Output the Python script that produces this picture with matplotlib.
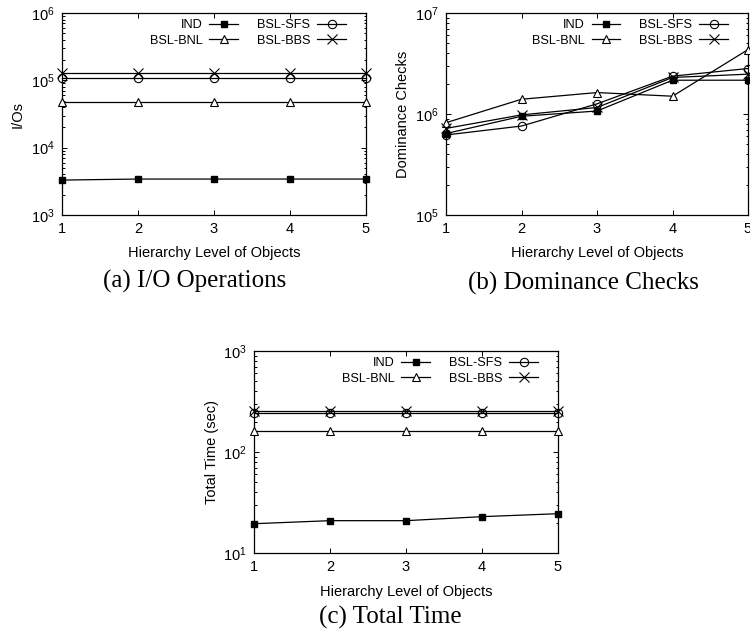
import matplotlib
matplotlib.use("Agg")
import matplotlib.pyplot as plt
from matplotlib.ticker import LogLocator, NullFormatter, FixedLocator

plt.rcParams['font.family'] = ['Liberation Sans', 'DejaVu Sans']
plt.rcParams['mathtext.fontset'] = 'custom'
plt.rcParams['mathtext.rm'] = 'Liberation Sans'

levels = [1, 2, 3, 4, 5]
series = ["IND", "BSL-BNL", "BSL-SFS", "BSL-BBS"]

io_ind = [3300, 3420, 3420, 3420, 3420]
io_bnl = [48000, 48000, 48000, 48000, 48000]
io_sfs = [109000, 109000, 109000, 109000, 109000]
io_bbs = [130000, 130000, 130000, 130000, 130000]

dc_ind = [640000, 950000, 1070000, 2160000, 2160000]
dc_bnl = [820000, 1400000, 1630000, 1500000, 4340000]
dc_sfs = [620000, 760000, 1260000, 2370000, 2820000]
dc_bbs = [720000, 980000, 1160000, 2300000, 2480000]

tt_ind = [19.5, 20.9, 20.9, 22.9, 24.5]
tt_bnl = [161, 161, 161, 161, 161]
tt_sfs = [241, 241, 241, 241, 241]
tt_bbs = [253, 253, 253, 253, 253]

W, H = 750, 642
fig = plt.figure(figsize=(W / 100, H / 100), dpi=100)


def px_axes(left, top, right, bottom):
    return fig.add_axes([left / W, (H - bottom) / H, (right - left) / W, (bottom - top) / H])


styles = {
    "IND": dict(marker='s', markersize=4.3, markerfacecolor='black', markeredgecolor='black'),
    "BSL-BNL": dict(marker='^', markersize=6, markerfacecolor='white', markeredgecolor='black', markeredgewidth=0.8),
    "BSL-SFS": dict(marker='o', markersize=6, markerfacecolor='none', markeredgecolor='black', markeredgewidth=0.8),
    "BSL-BBS": dict(marker='x', markersize=6.5, markeredgecolor='black', markeredgewidth=0.8),
}


def panel(ax, data, ylim, ylabel, ylabx, caption, cap_xy, xlab_y):
    handles = {}
    for name in ["IND", "BSL-BNL", "BSL-SFS", "BSL-BBS"]:
        ln, = ax.plot(levels, data[name], color='black', lw=0.9, clip_on=False, zorder=3, **styles[name])
        handles[name] = ln
    ax.set_yscale('log')
    ax.set_ylim(*ylim)
    ax.set_xlim(1, 5)
    ax.xaxis.set_major_locator(FixedLocator(levels))
    ax.yaxis.set_major_locator(LogLocator(base=10, numticks=10))
    ax.yaxis.set_minor_locator(LogLocator(base=10, subs=range(2, 10), numticks=10))
    ax.yaxis.set_minor_formatter(NullFormatter())
    ax.tick_params(which='both', direction='in', top=True, right=True, labelsize=10.5, width=0.7)
    ax.tick_params(which='major', length=3.5, pad=5)
    ax.tick_params(which='minor', length=1.8)
    for s in ax.spines.values():
        s.set_linewidth(0.9)
    ax.set_xlabel("Hierarchy Level of Objects", fontsize=10.5)
    ax.xaxis.label.set_va('center')
    ax.xaxis.set_label_coords(0.5, xlab_y)
    ax.set_ylabel(ylabel, fontsize=10.5)
    ax.yaxis.label.set_va('center')
    ax.yaxis.set_label_coords(ylabx, 0.5)
    order = ["IND", "BSL-BNL", "BSL-SFS", "BSL-BBS"]
    ax.legend([handles[n] for n in order], order, ncol=2, loc='upper right',
              bbox_to_anchor=(0.934, 0.97), frameon=False, markerfirst=False,
              fontsize=9.2, borderpad=0, borderaxespad=0, handlelength=2.25,
              handletextpad=0.55, columnspacing=1.45, labelspacing=0.3)
    fig.text(cap_xy[0] / W, 1 - cap_xy[1] / H, caption, ha='center', va='center',
             fontsize=18, family=['Liberation Serif', 'DejaVu Serif'])


ax_a = px_axes(62, 13, 366, 215)
panel(ax_a, {"IND": io_ind, "BSL-BNL": io_bnl, "BSL-SFS": io_sfs, "BSL-BBS": io_bbs},
      (1e3, 1e6), "I/Os", -0.145, "(a) I/O Operations", (194.5, 281), -0.19)

ax_b = px_axes(446, 13, 748, 215)
panel(ax_b, {"IND": dc_ind, "BSL-BNL": dc_bnl, "BSL-SFS": dc_sfs, "BSL-BBS": dc_bbs},
      (1e5, 1e7), "Dominance Checks", -0.142, "(b) Dominance Checks", (583, 283), -0.19)

ax_c = px_axes(254, 351, 558, 553)
panel(ax_c, {"IND": tt_ind, "BSL-BNL": tt_bnl, "BSL-SFS": tt_sfs, "BSL-BBS": tt_bbs},
      (1e1, 1e3), "Total Time (sec)", -0.138, "(c) Total Time", (390, 617), -0.193)

fig.savefig("out.png", dpi=100)
